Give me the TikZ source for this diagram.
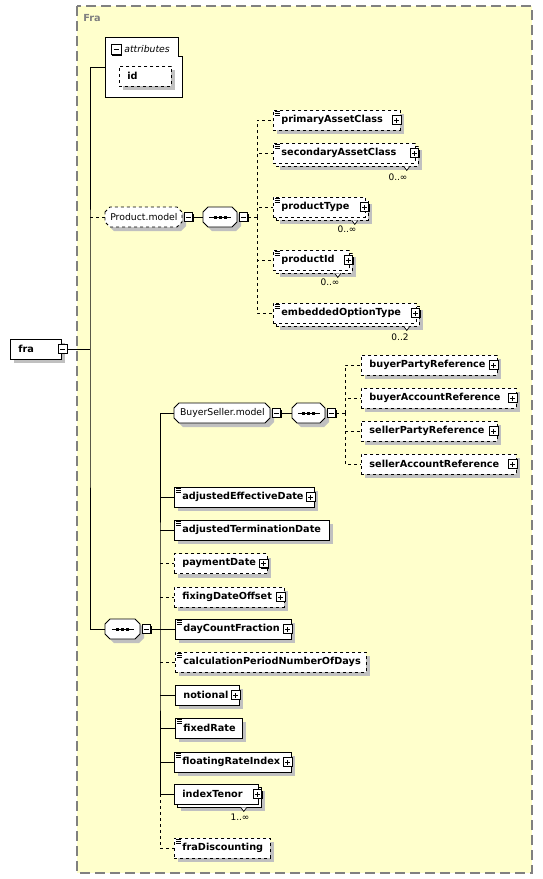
\documentclass[tikz,border=0pt]{standalone}
\usepackage{fontspec}
\setmainfont{DejaVu Sans}
\usetikzlibrary{shadows}
\usepackage{xcolor}
\definecolor{mybg}{HTML}{FFFFCC}
\definecolor{myframe}{HTML}{808080}
\definecolor{myshadow}{HTML}{C0C0C0}
\newcommand{\elemfont}{\fontsize{9.7}{11}\selectfont\bfseries}
\newcommand{\modelfont}{\fontsize{9.3}{11}\selectfont}
\newcommand{\multfont}{\fontsize{9}{10}\selectfont}
% octagon frame for model groups and compositors: [opts]{x}{y}{width}
\newcommand{\octagonat}[4][]{%
  \fill[myshadow,shift={(#2+4,#3+4)}] (0,-5) -- (5,-10) -- (#4-5,-10) -- (#4,-5) -- (#4,5) -- (#4-5,10) -- (5,10) -- (0,5) -- cycle;
  \draw[fill=white,shift={(#2,#3)},#1] (0,-5) -- (5,-10) -- (#4-5,-10) -- (#4,-5) -- (#4,5) -- (#4-5,10) -- (5,10) -- (0,5) -- cycle;}
\tikzset{
  connect/.style={draw=black,line width=0.8pt},
  connect opt/.style={connect,dashed},
  shadowed/.style={drop shadow={shadow xshift=4pt,shadow yshift=-4pt,fill=myshadow,opacity=1}},
  shadowed many/.style={drop shadow={shadow xshift=7pt,shadow yshift=-7pt,fill=myshadow,opacity=1},
    copy shadow={shadow xshift=3pt,shadow yshift=-3pt,#1}},
  elem base/.style={draw=black,fill=white,anchor=west,font=\elemfont,minimum height=20,
    inner xsep=8,inner ysep=0,text width=#1,align=left},
  elem/.style={elem base=#1,shadowed},
  elem opt/.style={elem base=#1,dashed,shadowed},
  elem many/.style={elem base=#1,shadowed many=solid},
  elem opt many/.style={elem base=#1,dashed,shadowed many=dashed},
  simple/.style={path picture={
    \draw[solid,line width=0.7pt] ([xshift=1.5pt,yshift=-1.5pt]path picture bounding box.north west) -- ++(5,0);
    \draw[solid,line width=0.7pt] ([xshift=1.5pt,yshift=-3.5pt]path picture bounding box.north west) -- ++(5,0);
    \draw[solid,line width=0.7pt] ([xshift=1.5pt,yshift=-5.5pt]path picture bounding box.north west) -- ++(5,0);}},
  model/.style={anchor=west,font=\modelfont,minimum height=20,minimum width=#1,inner sep=0},
  compositor/.style={model=#1,path picture={
    \draw[black] ([xshift=-11pt]path picture bounding box.center) -- ([xshift=11pt]path picture bounding box.center);
    \fill[black] ([xshift=-6.5pt,yshift=-1.5pt]path picture bounding box.center) rectangle ([xshift=-3.5pt,yshift=1.5pt]path picture bounding box.center);
    \fill[black] ([xshift=-1.5pt,yshift=-1.5pt]path picture bounding box.center) rectangle ([xshift=1.5pt,yshift=1.5pt]path picture bounding box.center);
    \fill[black] ([xshift=3.5pt,yshift=-1.5pt]path picture bounding box.center) rectangle ([xshift=6.5pt,yshift=1.5pt]path picture bounding box.center);}},
  pmbox/.style={draw=black,fill=white,minimum size=8.5,inner sep=0,solid,
    drop shadow={shadow xshift=1pt,shadow yshift=-1pt,fill=black,opacity=1}},
  plusbox/.style={pmbox,path picture={
    \draw ([xshift=-2.5pt]path picture bounding box.center) -- ([xshift=2.5pt]path picture bounding box.center);
    \draw ([yshift=-2.5pt]path picture bounding box.center) -- ([yshift=2.5pt]path picture bounding box.center);}},
  minusbox/.style={pmbox,path picture={
    \draw ([xshift=-2.5pt]path picture bounding box.center) -- ([xshift=2.5pt]path picture bounding box.center);}},
  mult/.style={font=\multfont,inner sep=0},
  vmark/.style={draw=black,fill=white,line width=0.7pt}
}
\begin{document}
\begin{tikzpicture}[x=1pt,y=-1pt,line width=0.8pt]
    \useasboundingbox (0,0) rectangle (543,879);
    \draw[myframe,fill=mybg,line width=1.3pt,dash pattern=on 10pt off 5pt] (77,6) rectangle (532,873);
    \node[font=\elemfont,text=myframe,anchor=west,inner sep=0] (fratitle) at (83,18) {Fra};

    % root and attributes
    \node[elem=35pt] (fra) at (10,349) {fra};
    \node[minusbox] (frax) at ([xshift=1pt]fra.east) {};
    \node[anchor=west,minimum width=77,minimum height=59,inner sep=0] (attr) at (105,67.5) {};
    \draw[fill=white] (attr.north west) -- ([xshift=-4pt]attr.north east) -- ([xshift=-4pt,yshift=-19pt]attr.north east)
        -- ([yshift=-19pt]attr.north east) -- (attr.south east) -- (attr.south west) -- cycle;
    \node[minusbox,minimum size=10] (attrx) at (116,49.5) {};
    \node[anchor=west,inner sep=0,font=\modelfont\itshape] (attrt) at (124,49) {attributes};
    \node[elem opt=36pt] (id) at (119,76) {id};

    % Product.model
    \octagonat[dashed]{105}{217}{77}
    \node[model=77] (pm) at (105,217) {Product.model};
    \node[minusbox] (pmx) at ([xshift=5.5pt]pm.east) {};
    \octagonat{203}{217}{34}
    \node[compositor=34] (pmseq) at (203,217) {};
    \node[minusbox] (pmseqx) at ([xshift=5.5pt]pmseq.east) {};
    \node[elem opt=111pt,simple] (pac) at (273,120) {primaryAssetClass};
    \node[elem opt many=126pt,simple] (sac) at (273,153) {secondaryAssetClass};
    \node[elem opt many=76pt,simple] (pt) at (273,207) {productType};
    \node[elem opt many=60pt,simple] (pid) at (273,260) {productId};
    \node[elem opt many=127pt,simple] (eot) at (273,313) {embeddedOptionType};
    \node[plusbox] (pacx) at ([xshift=-4pt]pac.east) {};
    \node[plusbox] (sacx) at ([xshift=-1.5pt]sac.east) {};
    \node[plusbox] (ptx) at ([xshift=-1.5pt]pt.east) {};
    \node[plusbox] (pidx) at ([xshift=-1.5pt]pid.east) {};
    \node[plusbox] (eotx) at ([xshift=-1.5pt]eot.east) {};
    \node[mult] (sacm) at (398,177) {0..∞};
    \node[mult] (ptm) at (347,229) {0..∞};
    \node[mult] (pidm) at (330,282) {0..∞};
    \node[mult] (eotm) at (400,337) {0..2};
    \draw[vmark] ([xshift=-12pt,yshift=-3pt]sac.south east) -- ++(3,4) -- ++(3,-4);
    \draw[vmark] ([xshift=-14pt,yshift=-3pt]pt.south east) -- ++(3,4) -- ++(3,-4);
    \draw[vmark] ([xshift=-15pt,yshift=-3pt]pid.south east) -- ++(3,4) -- ++(3,-4);
    \draw[vmark] ([xshift=-13pt,yshift=-3pt]eot.south east) -- ++(3,4) -- ++(3,-4);

    % main sequence
    \octagonat{105}{629}{35}
    \node[compositor=35] (seq) at (105,629) {};
    \node[minusbox] (seqx) at ([xshift=5.5pt]seq.east) {};
    \octagonat{174}{413}{96}
    \node[model=96] (bsm) at (174,413) {BuyerSeller.model};
    \node[minusbox] (bsmx) at ([xshift=5.5pt]bsm.east) {};
    \octagonat{292}{413}{33}
    \node[compositor=33] (bsseq) at (292,413) {};
    \node[minusbox] (bsseqx) at ([xshift=5.5pt]bsseq.east) {};
    \node[elem opt=120pt] (bpr) at (361,365) {buyerPartyReference};
    \node[elem opt=139pt] (bar) at (361,398) {buyerAccountReference};
    \node[elem opt=120pt] (spr) at (361,431) {sellerPartyReference};
    \node[elem opt=139pt] (sar) at (361,464) {sellerAccountReference};
    \node[elem=124pt,simple] (aed) at (174,497) {adjustedEffectiveDate};
    \node[elem=139pt,simple] (atd) at (174,530) {adjustedTerminationDate};
    \node[elem opt=77pt] (pd) at (174,563.5) {paymentDate};
    \node[elem opt=94pt] (fdo) at (174,597) {fixingDateOffset};
    \node[elem=100pt,simple] (dcf) at (175,629) {dayCountFraction};
    \node[elem opt=175pt,simple] (cpnd) at (175,662) {calculationPeriodNumberOfDays};
    \node[elem=48pt] (ntl) at (175,695) {notional};
    \node[elem=51pt,simple] (fxr) at (175,728) {fixedRate};
    \node[elem=101pt,simple] (fri) at (174,762) {floatingRateIndex};
    \node[elem many=68pt] (itn) at (174,794) {indexTenor};
    \node[elem opt=80pt,simple] (frd) at (174,848) {fraDiscounting};
    \node[plusbox] (bprx) at ([xshift=-4pt]bpr.east) {};
    \node[plusbox] (barx) at ([xshift=-4pt]bar.east) {};
    \node[plusbox] (sprx) at ([xshift=-4pt]spr.east) {};
    \node[plusbox] (sarx) at ([xshift=-4pt]sar.east) {};
    \node[plusbox] (aedx) at ([xshift=-4pt]aed.east) {};
    \node[plusbox] (pdx) at ([xshift=-4pt]pd.east) {};
    \node[plusbox] (fdox) at ([xshift=-4pt]fdo.east) {};
    \node[plusbox] (dcfx) at ([xshift=-4pt]dcf.east) {};
    \node[plusbox] (ntlx) at ([xshift=-4pt]ntl.east) {};
    \node[plusbox] (frix) at ([xshift=-4pt]fri.east) {};
    \node[plusbox] (itnx) at ([xshift=-1.5pt]itn.east) {};
    \node[mult] (itnm) at (240,817) {1..∞};
    \draw[vmark] ([xshift=-18pt,yshift=-3pt]itn.south east) -- ++(3,4) -- ++(3,-4);

    % connectors
    \coordinate (spine) at (90,349);
    \draw[connect] (frax.east) -- (spine);
    \draw[connect] (attr.west) -| (spine) |- (seq.west);
    \draw[connect opt] (pm.west -| spine) -- (pm.west);

    \draw[connect] (pmx.east) -- (pmseq.west);
    \coordinate (pmbus) at (257,217);
    \draw[connect opt] (pmseqx.east) -- (pmbus);
    \draw[connect opt] (pmbus) |- (pac.west);
    \draw[connect opt] (pmbus) |- (sac.west);
    \draw[connect opt] (pmbus) |- (pt.west);
    \draw[connect opt] (pmbus) |- (pid.west);
    \draw[connect opt] (pmbus) |- (eot.west);

    \coordinate (seqbus) at (160,629);
    \draw[connect] (seqx.east) -- (seqbus);
    \draw[connect] (bsm.west) -| (seqbus) |- (itn.west);
    \draw[connect] (aed.west -| seqbus) -- (aed.west);
    \draw[connect] (atd.west -| seqbus) -- (atd.west);
    \draw[connect opt] (pd.west -| seqbus) -- (pd.west);
    \draw[connect opt] (fdo.west -| seqbus) -- (fdo.west);
    \draw[connect] (dcf.west -| seqbus) -- (dcf.west);
    \draw[connect opt] (cpnd.west -| seqbus) -- (cpnd.west);
    \draw[connect] (ntl.west -| seqbus) -- (ntl.west);
    \draw[connect] (fxr.west -| seqbus) -- (fxr.west);
    \draw[connect] (fri.west -| seqbus) -- (fri.west);
    \draw[connect opt] (itn.west -| seqbus) |- (frd.west);

    \draw[connect] (bsmx.east) -- (bsseq.west);
    \coordinate (bsbus) at (345,413);
    \draw[connect opt] (bsseqx.east) -- (bsbus);
    \draw[connect opt] (bsbus) |- (bpr.west);
    \draw[connect opt] (bsbus) |- (bar.west);
    \draw[connect opt] (bsbus) |- (spr.west);
    \draw[connect opt] (bsbus) |- (sar.west);
\end{tikzpicture}
\end{document}
